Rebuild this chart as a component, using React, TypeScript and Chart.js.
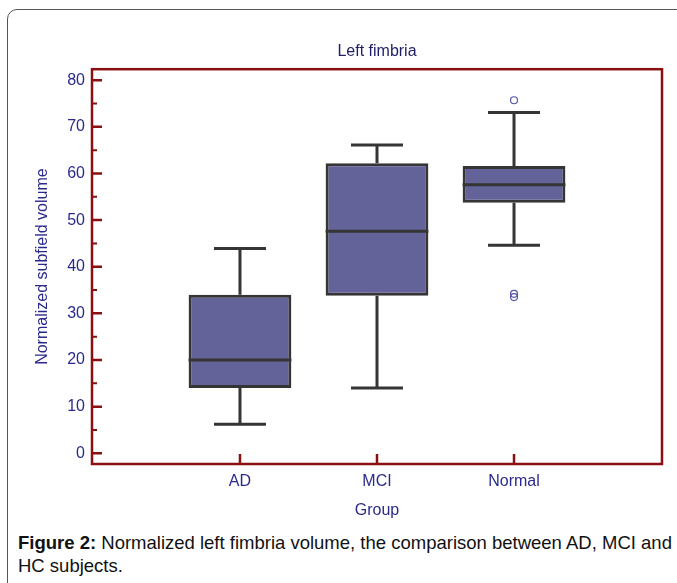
import React, { useEffect, useRef } from 'react';
import { Chart, registerables } from 'chart.js';

Chart.register(...registerables);

// ---- data ----
const categories = ['AD', 'MCI', 'Normal'];
const whiskerLow = [6.2, 14.0, 44.6];
const q1 = [14.0, 33.8, 53.7];
const median = [20.0, 47.6, 57.6];
const q3 = [34.0, 62.2, 61.6];
const whiskerHigh = [43.9, 66.1, 73.1];
const outlierGroup = [3, 3, 3];
const outlierValue = [75.7, 34.2, 33.5];
const yTicks = [0, 10, 20, 30, 40, 50, 60, 70, 80];
const yMinorTicks = [5, 15, 25, 35, 45, 55, 65, 75];

// ---- styles ----
const FONT = 'Liberation Sans, Arial, Helvetica, sans-serif';
const TEXT = '#2a2a8c';
const TITLE = '#1e1e66';
const AXIS = '#8b0f12';
const BOX_FILL = '#636399';
const LINE = '#353535';
const CAP_HALF = 26;

const boxPlotPlugin = {
  id: 'boxPlotExtras',
  beforeDatasetsDraw(chart: any) {
    const { ctx, scales } = chart;
    const x = scales.x;
    const y = scales.y;
    ctx.save();
    ctx.strokeStyle = LINE;
    ctx.lineWidth = 3;
    ctx.lineCap = 'butt';
    categories.forEach((_, i) => {
      const px = x.getPixelForValue(i + 1);
      const yHi = y.getPixelForValue(whiskerHigh[i]);
      const yLo = y.getPixelForValue(whiskerLow[i]);
      ctx.beginPath();
      ctx.moveTo(px, y.getPixelForValue(q3[i]));
      ctx.lineTo(px, yHi);
      ctx.moveTo(px, y.getPixelForValue(q1[i]));
      ctx.lineTo(px, yLo);
      ctx.moveTo(px - CAP_HALF, yHi);
      ctx.lineTo(px + CAP_HALF, yHi);
      ctx.moveTo(px - CAP_HALF, yLo);
      ctx.lineTo(px + CAP_HALF, yLo);
      ctx.stroke();
    });
    ctx.restore();
  },
  afterDatasetsDraw(chart: any) {
    const { ctx, scales, chartArea } = chart;
    const x = scales.x;
    const y = scales.y;
    const meta = chart.getDatasetMeta(0);
    ctx.save();
    // medians
    ctx.strokeStyle = LINE;
    ctx.lineWidth = 3;
    meta.data.forEach((el: any, i: number) => {
      const { x: cx, width } = el.getProps(['x', 'width'], true);
      const py = y.getPixelForValue(median[i]);
      ctx.beginPath();
      ctx.moveTo(cx - width / 2, py);
      ctx.lineTo(cx + width / 2, py);
      ctx.stroke();
    });
    // frame
    ctx.strokeStyle = AXIS;
    ctx.lineWidth = 2.5;
    ctx.strokeRect(chartArea.left, chartArea.top, chartArea.right - chartArea.left, chartArea.bottom - chartArea.top);
    // ticks (inward)
    ctx.beginPath();
    yTicks.forEach((v) => {
      const py = y.getPixelForValue(v);
      ctx.moveTo(chartArea.left, py);
      ctx.lineTo(chartArea.left + 10, py);
    });
    categories.forEach((_, i) => {
      const px = x.getPixelForValue(i + 1);
      ctx.moveTo(px, chartArea.bottom);
      ctx.lineTo(px, chartArea.bottom - 10);
    });
    ctx.stroke();
    ctx.lineWidth = 2;
    ctx.beginPath();
    yMinorTicks.forEach((v) => {
      const py = y.getPixelForValue(v);
      ctx.moveTo(chartArea.left, py);
      ctx.lineTo(chartArea.left + 5, py);
    });
    ctx.stroke();
    ctx.restore();
  },
};

export default function App() {
  const canvasRef = useRef<HTMLCanvasElement | null>(null);

  useEffect(() => {
    if (!canvasRef.current) return;
    const chart = new Chart(canvasRef.current, {
      type: 'bar',
      data: {
        datasets: [
          {
            type: 'bar',
            data: categories.map((_, i) => ({ x: i + 1, y: [q1[i], q3[i]] })) as any,
            backgroundColor: BOX_FILL,
            borderColor: LINE,
            borderWidth: 3,
            borderSkipped: false,
            barPercentage: 0.75,
            categoryPercentage: 1,
          } as any,
          {
            type: 'scatter',
            data: outlierValue.map((v, i) => ({ x: outlierGroup[i], y: v })),
            pointRadius: 3.5,
            pointBorderWidth: 1.2,
            pointBackgroundColor: 'rgba(255,255,255,0)',
            pointBorderColor: '#5555aa',
            showLine: false,
          } as any,
        ],
      },
      options: {
        responsive: false,
        animation: false,
        layout: { padding: { left: 0, right: 15, top: 0, bottom: 0 } },
        plugins: {
          legend: { display: false },
          tooltip: { enabled: false },
          title: {
            display: true,
            fullSize: false,
            text: 'Left fimbria',
            color: TITLE,
            font: { family: FONT, size: 16, weight: 'normal' },
            padding: { top: 42, bottom: 8 },
          },
        },
        scales: {
          x: {
            type: 'linear',
            min: -0.08,
            max: 4.08,
            offset: false,
            grid: { display: false, drawTicks: false, offset: false },
            border: { display: false },
            afterBuildTicks: (s: any) => {
              s.ticks = categories.map((_, i) => ({ value: i + 1 }));
            },
            afterFit: (s: any) => {
              s.height = 66;
            },
            ticks: {
              callback: (v: any) => categories[Number(v) - 1] ?? '',
              color: TEXT,
              font: { family: FONT, size: 16 },
              padding: 8,
              autoSkip: false,
              maxRotation: 0,
            },
            title: {
              display: true,
              text: 'Group',
              color: TEXT,
              font: { family: FONT, size: 16 },
              padding: { top: 0, bottom: 10 },
            },
          },
          y: {
            type: 'linear',
            min: -2.3,
            max: 82.36,
            grid: { display: false, drawTicks: false },
            border: { display: false },
            afterBuildTicks: (s: any) => {
              s.ticks = yTicks.map((v) => ({ value: v }));
            },
            afterFit: (s: any) => {
              s.width = 92;
            },
            ticks: {
              color: TEXT,
              font: { family: FONT, size: 16 },
              padding: 7,
            },
            title: {
              display: true,
              text: 'Normalized subfield volume',
              color: TEXT,
              font: { family: FONT, size: 16 },
              padding: { top: 33, bottom: 0 },
            },
          },
        },
      } as any,
      plugins: [boxPlotPlugin],
    });
    return () => chart.destroy();
  }, []);

  return (
    <div>
      <div
        style={{
          position: 'absolute',
          left: 7,
          top: 9,
          width: 690,
          height: 600,
          border: '1.5px solid #555',
          borderRadius: 10,
          boxSizing: 'border-box',
        }}
      />
      <canvas
        ref={canvasRef}
        width={677}
        height={530}
        style={{ position: 'absolute', left: 0, top: 0, width: 677, height: 530 }}
      />
      <div
        style={{
          position: 'absolute',
          left: 18,
          top: 531,
          width: 670,
          fontFamily: FONT,
          fontSize: 18.5,
          lineHeight: '23px',
          color: '#111',
          whiteSpace: 'nowrap',
        }}
      >
        <b>Figure 2:</b> Normalized left fimbria volume, the comparison between AD, MCI and
        <br />
        HC subjects.
      </div>
    </div>
  );
}
